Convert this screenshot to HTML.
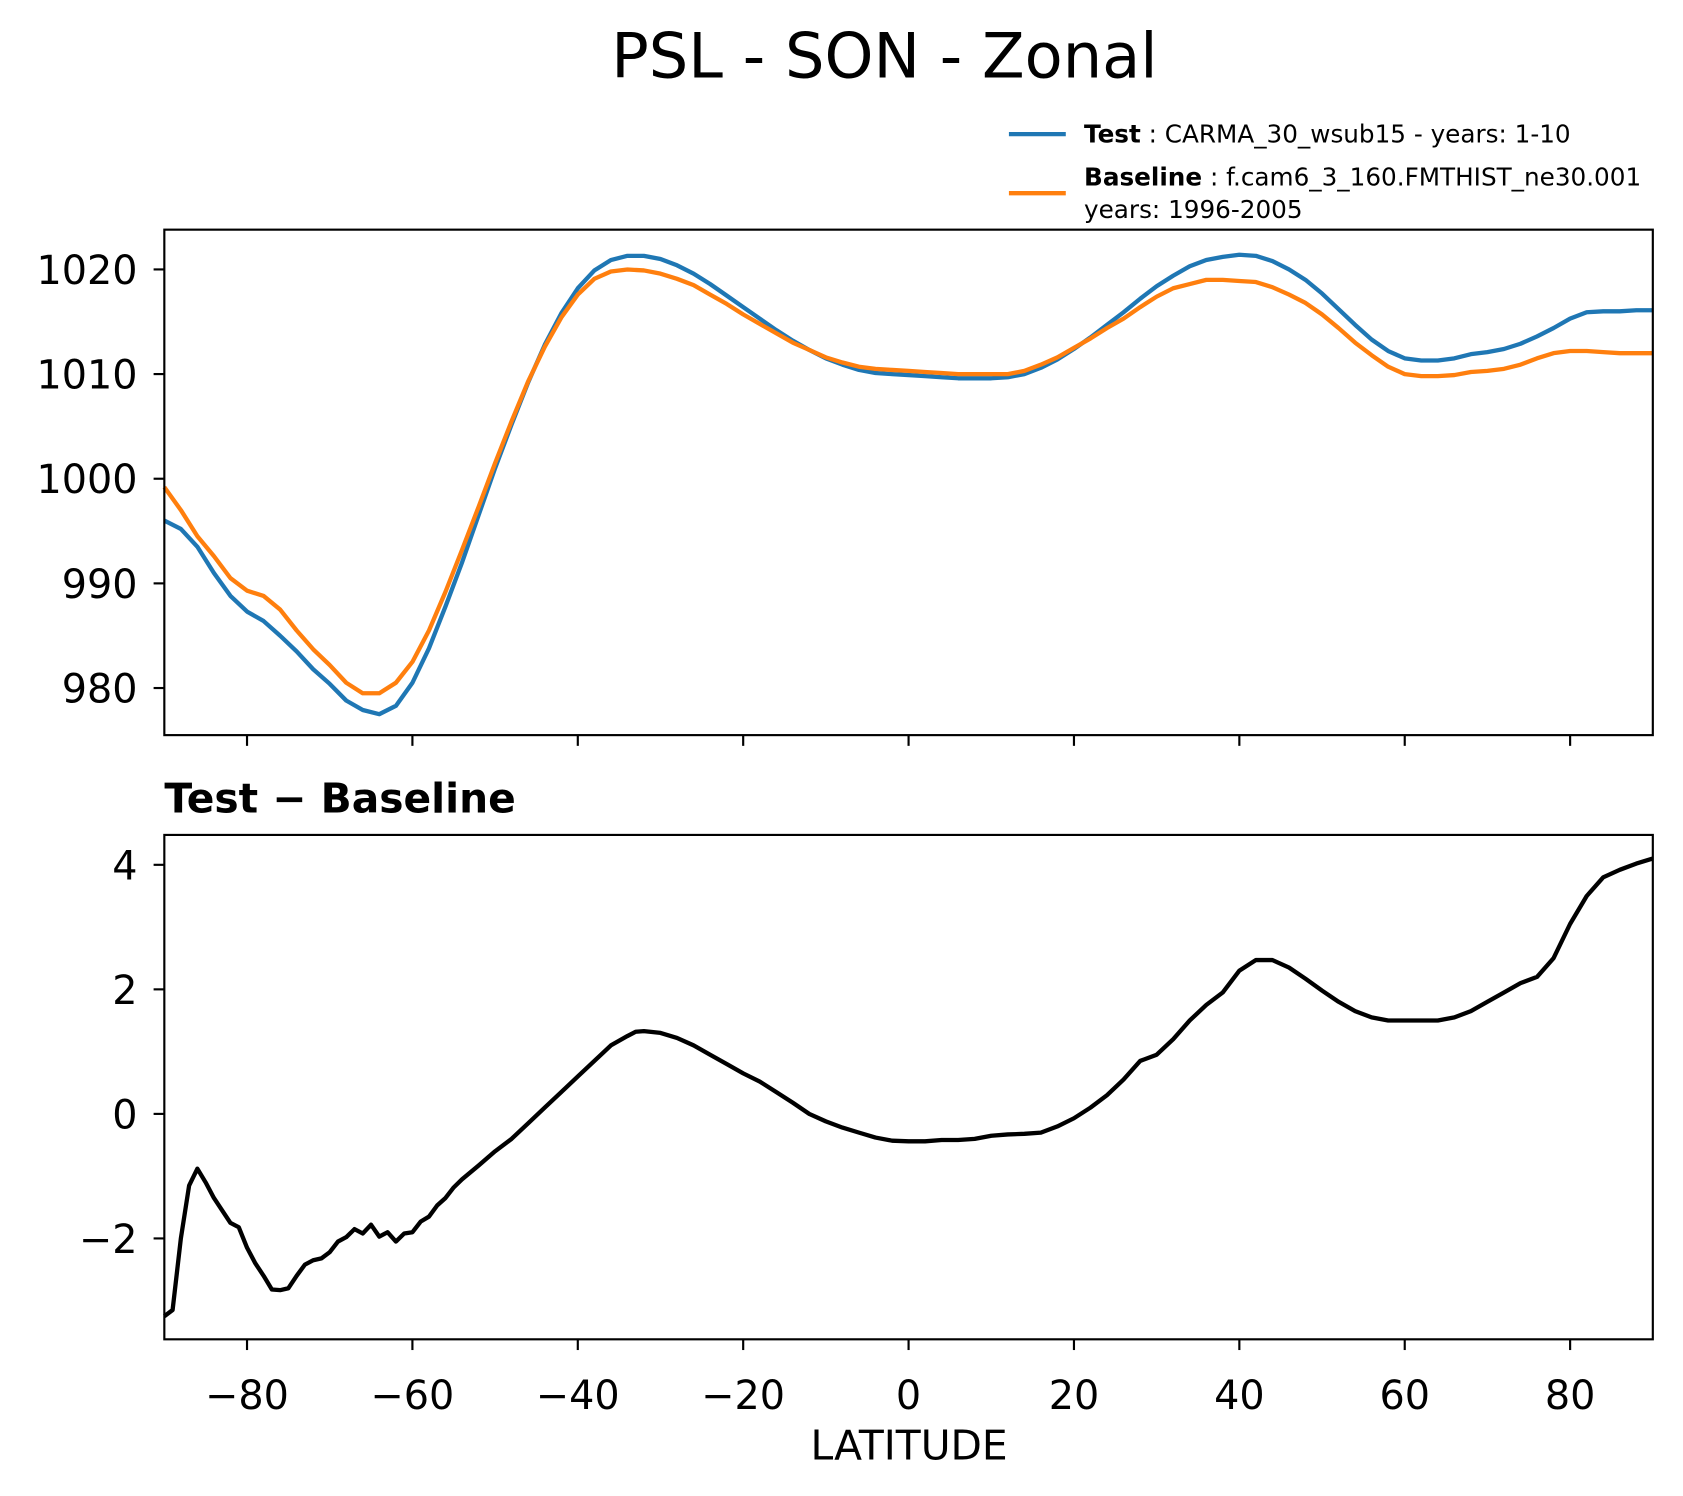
<!DOCTYPE html>
<html><head><meta charset="utf-8"><style>
html,body{margin:0;padding:0;background:#fff;}
svg{display:block;font-family:"DejaVu Sans","Liberation Sans",sans-serif;}
</style></head><body>
<svg id="chart" width="1683" height="1496" viewBox="0 0 1568 1394" xmlns="http://www.w3.org/2000/svg">
<rect width="1568" height="1394" fill="#fff"/>
<text x="824" y="72" font-size="58" text-anchor="middle">PSL - SON - Zonal</text>
<g>
<line x1="940" y1="125" x2="993" y2="125" stroke="#1f77b4" stroke-width="4"/>
<text x="1010" y="133" font-size="23"><tspan font-weight="bold">Test</tspan> : CARMA_30_wsub15 - years: 1-10</text>
<line x1="940" y1="180" x2="993" y2="180" stroke="#ff7f0e" stroke-width="4"/>
<text x="1010" y="173" font-size="23"><tspan font-weight="bold">Baseline</tspan> : f.cam6_3_160.FMTHIST_ne30.001</text>
<text x="1010" y="203" font-size="23">years: 1996-2005</text>
</g>
<text x="153" y="757" font-size="38" font-weight="bold">Test − Baseline</text>
<text x="847" y="1360" font-size="38" text-anchor="middle">LATITUDE</text>
<g id="g"></g>
</svg>
<script>
const lats=[-90,-89,-88,-87,-86,-85,-84,-82,-81,-80,-79,-78,-77,-76,-75,-74,-73,-72,-71,-70,-69,-68,-67,-66,-65,-64,-63,-62,-61,-60,-59,-58,-57,-56,-55,-54,-52,-50,-48,-46,-44,-42,-40,-38,-36,-34,-33,-32,-30,-28,-26,-24,-22,-20,-18,-16,-14,-12,-10,-8,-6,-4,-2,0,2,4,6,8,10,12,14,16,18,20,22,24,26,28,30,32,34,36,38,40,42,44,46,48,50,52,54,56,58,60,62,64,66,68,70,72,74,76,78,80,82,84,86,88,90];
const diffVals=[-3.25,-3.15,-2.0,-1.15,-0.88,-1.1,-1.35,-1.75,-1.82,-2.15,-2.4,-2.6,-2.82,-2.83,-2.8,-2.6,-2.42,-2.35,-2.32,-2.22,-2.05,-1.98,-1.85,-1.92,-1.78,-1.97,-1.9,-2.05,-1.92,-1.9,-1.73,-1.65,-1.47,-1.35,-1.18,-1.05,-0.83,-0.6,-0.4,-0.15,0.1,0.35,0.6,0.85,1.1,1.25,1.32,1.33,1.3,1.22,1.1,0.95,0.8,0.65,0.52,0.35,0.18,0.0,-0.12,-0.22,-0.3,-0.38,-0.43,-0.44,-0.44,-0.42,-0.42,-0.4,-0.35,-0.33,-0.32,-0.3,-0.2,-0.07,0.1,0.3,0.55,0.85,0.95,1.2,1.5,1.75,1.95,2.3,2.47,2.47,2.35,2.17,1.98,1.8,1.65,1.55,1.5,1.5,1.5,1.5,1.55,1.65,1.8,1.95,2.1,2.2,2.5,3.05,3.5,3.8,3.92,4.02,4.1];
const lats2=[-90,-88,-86,-84,-82,-80,-78,-76,-74,-72,-70,-68,-66,-64,-62,-60,-58,-56,-54,-52,-50,-48,-46,-44,-42,-40,-38,-36,-34,-32,-30,-28,-26,-24,-22,-20,-18,-16,-14,-12,-10,-8,-6,-4,-2,0,2,4,6,8,10,12,14,16,18,20,22,24,26,28,30,32,34,36,38,40,42,44,46,48,50,52,54,56,58,60,62,64,66,68,70,72,74,76,78,80,82,84,86,88,90];
const testVals=[996,995.2,993.5,991,988.8,987.3,986.4,985,983.5,981.8,980.4,978.8,977.9,977.5,978.3,980.5,983.8,987.8,992,996.5,1001,1005.2,1009.2,1012.8,1015.8,1018.2,1019.9,1020.9,1021.3,1021.3,1021,1020.4,1019.6,1018.6,1017.5,1016.4,1015.3,1014.2,1013.2,1012.3,1011.5,1010.9,1010.4,1010.1,1010,1009.9,1009.8,1009.7,1009.6,1009.6,1009.6,1009.7,1010,1010.6,1011.4,1012.4,1013.5,1014.7,1015.9,1017.2,1018.4,1019.4,1020.3,1020.9,1021.2,1021.4,1021.3,1020.8,1020,1019,1017.7,1016.2,1014.7,1013.3,1012.2,1011.5,1011.3,1011.3,1011.5,1011.9,1012.1,1012.4,1012.9,1013.6,1014.4,1015.3,1015.9,1016,1016,1016.1,1016.1];
const baseVals=[999.2,997,994.5,992.6,990.5,989.3,988.8,987.5,985.5,983.7,982.2,980.5,979.5,979.5,980.5,982.5,985.5,989.2,993.2,997.3,1001.5,1005.5,1009.3,1012.6,1015.4,1017.6,1019.1,1019.8,1020.0,1019.9,1019.6,1019.1,1018.5,1017.6,1016.7,1015.7,1014.8,1013.9,1013.0,1012.3,1011.6,1011.1,1010.7,1010.5,1010.4,1010.3,1010.2,1010.1,1010.0,1010.0,1010.0,1010.0,1010.3,1010.9,1011.6,1012.5,1013.4,1014.4,1015.3,1016.4,1017.4,1018.2,1018.6,1019.0,1019.0,1018.9,1018.8,1018.3,1017.6,1016.8,1015.7,1014.4,1013.0,1011.8,1010.7,1010.0,1009.8,1009.8,1009.9,1010.2,1010.3,1010.5,1010.9,1011.5,1012.0,1012.2,1012.2,1012.1,1012.0,1012.0,1012.0];
const xTicks=[-80,-60,-40,-20,0,20,40,60,80];
const xTickLabels=["−80","−60","−40","−20","0","20","40","60","80"];
const topTicks=[980,990,1000,1010,1020];
const topTickLabels=["980","990","1000","1010","1020"];
const botTicks=[-2,0,2,4];
const botTickLabels=["−2","0","2","4"];

const NS="http://www.w3.org/2000/svg";
const g=document.getElementById('g');
const L=153,R=1540;
const T1=214,B1=685,T2=778,B2=1248;
const xs=v=>L+(v+90)/180*(R-L);
const y1=v=>B1-(v-975.5)/(1023.8-975.5)*(B1-T1);
const y2=v=>B2-(v+3.62)/(4.48+3.62)*(B2-T2);
function mk(t,a){const e=document.createElementNS(NS,t);for(const k in a)e.setAttribute(k,a[k]);g.appendChild(e);return e;}
function path(xv,yv,fy,color,name){
  const d=xv.map((x,i)=>(i?'L':'M')+xs(x).toFixed(1)+' '+fy(yv[i]).toFixed(1)).join(' ');
  const p=mk('path',{d:d,fill:'none',stroke:color,'stroke-width':4,'stroke-linejoin':'round'});
  
  
}
path(lats2,testVals,y1,'#1f77b4','test-line');
path(lats2,baseVals,y1,'#ff7f0e','baseline-line');
path(lats,diffVals,y2,'#000','difference-line');
[[T1,B1,'top-axes-frame'],[T2,B2,'diff-axes-frame']].forEach(([t,b,n])=>{
  const r=mk('rect',{x:L,y:t,width:R-L,height:b-t,fill:'none',stroke:'#000','stroke-width':2});
  
  
});
xTicks.forEach((v,i)=>{
  [B1,B2].forEach(b=>{
    const t=mk('line',{x1:xs(v),x2:xs(v),y1:b,y2:b+10,stroke:'#000','stroke-width':2});
    
    
  });
  const tx=mk('text',{x:xs(v),y:B2+65,'font-size':37,'text-anchor':'middle'});
  tx.textContent=xTickLabels[i];
  
  
});
function yt(ticks,labels,fy,nm){
  ticks.forEach((v,i)=>{
    const t=mk('line',{x1:L-10,x2:L,y1:fy(v),y2:fy(v),stroke:'#000','stroke-width':2});
    
    
    const tx=mk('text',{x:L-25,y:fy(v)+13.5,'font-size':37,'text-anchor':'end'});
    tx.textContent=labels[i];
    
    
  });
}
yt(topTicks,topTickLabels,y1,'top-y');
yt(botTicks,botTickLabels,y2,'diff-y');
</script>
</body></html>
